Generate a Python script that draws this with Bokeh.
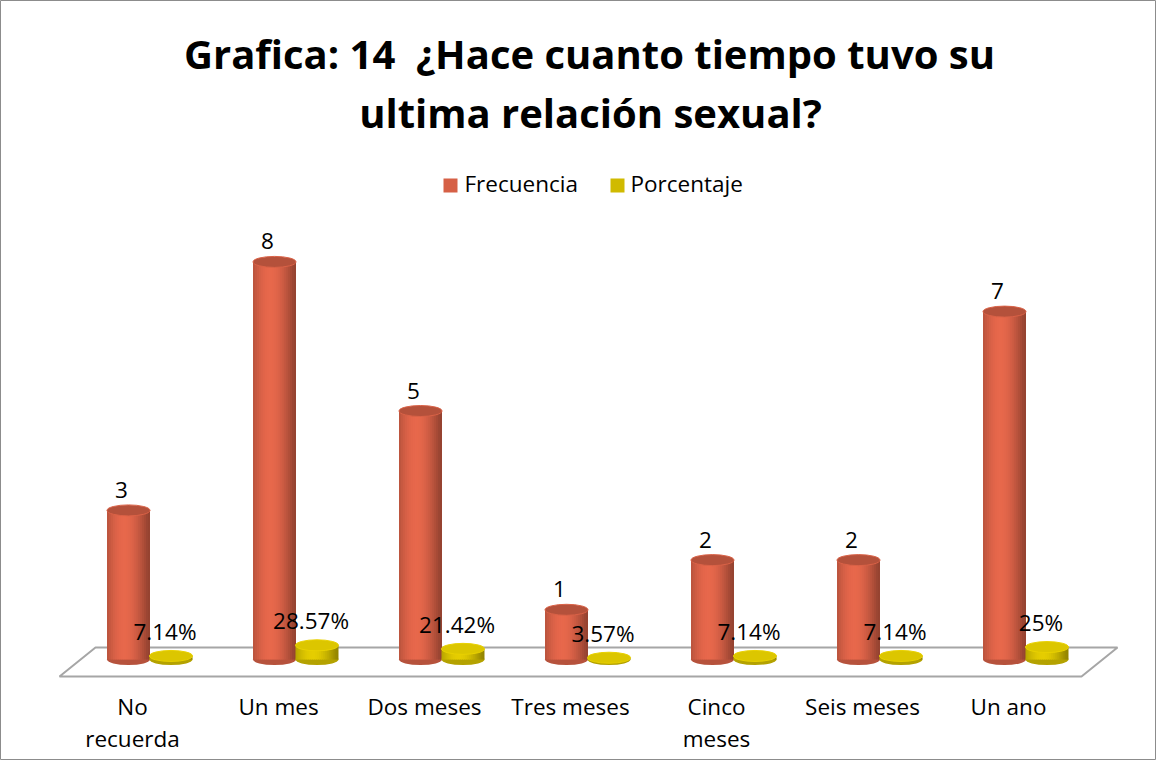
import math
from bokeh.plotting import figure
from bokeh.models import Range1d, ColumnDataSource
from bokeh.core.properties import value
from bokeh.embed import file_html
from bokeh.resources import INLINE

# ---- data ----
categories = ["No\nrecuerda", "Un mes", "Dos meses", "Tres meses", "Cinco\nmeses", "Seis meses", "Un ano"]
frecuencia = [3, 8, 5, 1, 2, 2, 7]
porcentaje = [0.0714, 0.2857, 0.2142, 0.0357, 0.0714, 0.0714, 0.25]
series_names = ["Frecuencia", "Porcentaje"]
title_lines = ["Grafica: 14\u00a0 \u00bfHace cuanto tiempo tuvo su", "ultima relaci\u00f3n sexual?"]

# ---- layout constants (page pixels -> data) ----
W, H = 1156, 760
PX_PER_CAT = 146.0
PX_PER_UNIT = 49.7
X0_PAGE = 140.0   # page x of category 0
Y0_PAGE = 667.0   # page y of value 0

def dx(px):
    return (px - X0_PAGE) / PX_PER_CAT

def dy(py):
    return (Y0_PAGE - py) / PX_PER_UNIT

FONT = "Open Sans"
FSN = 22.5
FS = "%.1fpx" % FSN
TFSN = 40
BL = 0.42  # baseline correction (em)
RED = (214, 96, 70)
YEL = (212, 190, 0)

p = figure(width=W, height=H, output_backend="svg", toolbar_location=None,
           x_range=Range1d(dx(8), dx(8 + W)), y_range=Range1d(dy(8 + H), dy(8)),
           min_border=0, min_border_left=0, min_border_right=0,
           min_border_top=0, min_border_bottom=0)
p.axis.visible = False
p.grid.visible = False
p.outline_line_color = "#8c8c8c"
p.outline_line_width = 1
p.background_fill_color = "white"
p.border_fill_color = "white"

n = len(categories)
# ---- floor ----
depth_x = 36 / PX_PER_CAT
fy, by = dy(684), dy(655)
p.patch([-0.5, n - 0.5, n - 0.5 + depth_x, -0.5 + depth_x], [fy, fy, by, by],
        fill_color="white", line_color="#a6a6a6", line_width=2)

def hexc(rgb, f):
    r, g, b = (min(255, int(round(c * f))) for c in rgb)
    return "#%02x%02x%02x" % (r, g, b)

cyl_w = 43 / PX_PER_CAT
off_red = -4 / PX_PER_CAT
off_yel = 38.5 / PX_PER_CAT
NS = 22
overlap = 1.0 / PX_PER_CAT

def shade(t):
    return 0.70 + 0.38 * max(0.0, math.cos((t - 0.4) * math.pi * 0.9))

def cylinders(offset, vals, rgb, top_f, top_line_f):
    xs = [i + offset for i in range(n)]
    p.ellipse(x=xs, y=[0] * n, width=cyl_w, height=11, height_units="screen",
              fill_color=hexc(rgb, 0.85), line_color=None)
    L, R, T, B, C = [], [], [], [], []
    for x, v in zip(xs, vals):
        for k in range(NS):
            t0 = k / NS
            t1 = (k + 1) / NS
            L.append(x - cyl_w / 2 + t0 * cyl_w)
            R.append(min(x + cyl_w / 2, x - cyl_w / 2 + t1 * cyl_w + overlap))
            B.append(0)
            T.append(v)
            C.append(hexc(rgb, shade((t0 + t1) / 2)))
    p.quad(source=ColumnDataSource(dict(l=L, r=R, t=T, b=B, c=C)),
           left="l", right="r", top="t", bottom="b", fill_color="c", line_color=None)
    p.ellipse(x=xs, y=vals, width=cyl_w, height=11, height_units="screen",
              fill_color=hexc(rgb, top_f), line_color=hexc(rgb, top_line_f), line_width=1)
    return xs

xr = cylinders(off_red, frecuencia, RED, 0.84, 1.02)
xyl = cylinders(off_yel, porcentaje, YEL, 1.04, 1.1)

corr = BL * FSN / PX_PER_UNIT
# ---- value labels ----
p.text(x=xr, y=[v + 11 / PX_PER_UNIT + corr for v in frecuencia], text=[str(v) for v in frecuencia],
       x_offset=-7, text_align="center", text_baseline="alphabetic",
       text_font=value(FONT), text_font_size=FS, text_color="black")
pct_labels = [("%.2f" % (v * 100)).rstrip("0").rstrip(".") + "%" for v in porcentaje]
p.text(x=xyl, y=[v + 15 / PX_PER_UNIT + corr for v in porcentaje], text=pct_labels,
       x_offset=-6, text_align="center", text_baseline="alphabetic",
       text_font=value(FONT), text_font_size=FS, text_color="black")

# ---- category labels ----
line1 = [c.split("\n")[0] for c in categories]
line2 = [c.split("\n")[1] if "\n" in c else "" for c in categories]
p.text(x=list(range(n)), y=[dy(723 - BL * FSN)] * n, text=line1, text_align="center",
       text_baseline="alphabetic", text_font=value(FONT), text_font_size=FS, text_color="black")
p.text(x=list(range(n)), y=[dy(755 - BL * FSN)] * n, text=line2, text_align="center",
       text_baseline="alphabetic", text_font=value(FONT), text_font_size=FS, text_color="black")

# ---- legend ----
p.scatter(x=[dx(458), dx(625)], y=[dy(193)] * 2, marker="square", size=14,
          fill_color=[hexc(RED, 1.0), hexc(YEL, 0.98)], line_color=None)
p.text(x=[dx(472), dx(638)], y=[dy(200 - BL * FSN)] * 2, text=series_names, text_align="left",
       text_baseline="alphabetic", text_font=value(FONT), text_font_size=FS, text_color="black")

# ---- title ----
p.text(x=[dx(597), dx(598)], y=[dy(78 - BL * TFSN), dy(137 - BL * TFSN)], text=title_lines,
       text_align="center", text_baseline="alphabetic", text_font=value(FONT),
       text_font_size="%dpx" % TFSN, text_font_style="bold", text_color="black")

open("out.html", "w").write(file_html(p, INLINE))
